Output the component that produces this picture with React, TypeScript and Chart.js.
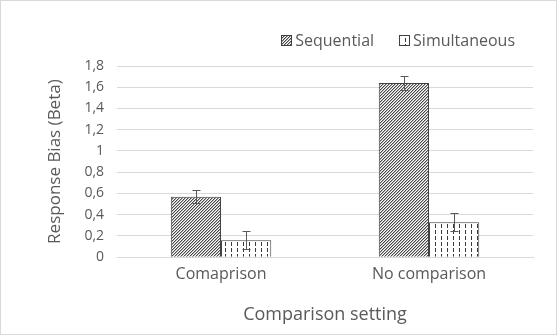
import React, { useEffect, useRef } from "react";
import { Chart, registerables } from "chart.js";

Chart.register(...registerables);

const categories = ["Comaprison", "No comparison"];
const seriesNames = ["Sequential", "Simultaneous"];
const sequentialValues = [0.57, 1.64];
const simultaneousValues = [0.16, 0.33];
const sequentialErrors = [0.06, 0.065];
const simultaneousErrors = [0.085, 0.085];
const yTickLabels = ["0", "0,2", "0,4", "0,6", "0,8", "1", "1,2", "1,4", "1,6", "1,8"];
const xTitle = "Comparison setting";
const yTitle = "Response Bias (Beta)";

const FONT = "'Open Sans', sans-serif";
const TEXT = "#595959";

function makeDiagonal(): CanvasPattern | string {
  const n = 3;
  const c = document.createElement("canvas");
  c.width = n;
  c.height = n;
  const ctx = c.getContext("2d");
  if (!ctx) return "#888";
  ctx.fillStyle = "#ffffff";
  ctx.fillRect(0, 0, n, n);
  for (let x = 0; x < n; x++) {
    for (let y = 0; y < n; y++) {
      const k = (x + y) % n;
      if (k === n - 1) {
        ctx.fillStyle = "#484848";
        ctx.fillRect(x, y, 1, 1);
      } else if (k === 0) {
        ctx.fillStyle = "#b4b4b4";
        ctx.fillRect(x, y, 1, 1);
      }
    }
  }
  return ctx.createPattern(c, "repeat") || "#888";
}

function makeDashes(): CanvasPattern | string {
  const c = document.createElement("canvas");
  c.width = 6;
  c.height = 6;
  const ctx = c.getContext("2d");
  if (!ctx) return "#ccc";
  ctx.fillStyle = "#ffffff";
  ctx.fillRect(0, 0, 6, 6);
  ctx.fillStyle = "#3a3a3a";
  ctx.fillRect(2, 1, 1, 4);
  return ctx.createPattern(c, "repeat") || "#ccc";
}

const errorBarPlugin = {
  id: "errorBars",
  afterDatasetsDraw(chart: any) {
    const ctx = chart.ctx;
    const yScale = chart.scales.y;
    const errs = [sequentialErrors, simultaneousErrors];
    const vals = [sequentialValues, simultaneousValues];
    ctx.save();
    ctx.strokeStyle = "#595959";
    ctx.lineWidth = 1;
    chart.data.datasets.forEach((_: any, di: number) => {
      const meta = chart.getDatasetMeta(di);
      meta.data.forEach((el: any, i: number) => {
        const x = Math.round(el.x) + 0.5;
        const yHi = Math.round(yScale.getPixelForValue(vals[di][i] + errs[di][i])) + 0.5;
        const yLo = Math.round(yScale.getPixelForValue(vals[di][i] - errs[di][i])) + 0.5;
        ctx.beginPath();
        ctx.moveTo(x, yHi);
        ctx.lineTo(x, yLo);
        ctx.moveTo(x - 4, yHi);
        ctx.lineTo(x + 4, yHi);
        ctx.moveTo(x - 4, yLo);
        ctx.lineTo(x + 4, yLo);
        ctx.stroke();
      });
    });
    ctx.restore();
  },
};

const legendPlugin = {
  id: "customLegend",
  afterDraw(chart: any) {
    const ctx = chart.ctx;
    ctx.save();
    ctx.font = `16px ${FONT}`;
    ctx.textBaseline = "middle";
    const box = 11;
    const gap = 3;
    const itemGap = 25;
    const right = 514;
    const cy = 39;
    const widths = chart.data.datasets.map((d: any) => box + gap + ctx.measureText(d.label).width);
    let x = right - widths.reduce((a: number, b: number) => a + b, 0) - itemGap * (widths.length - 1);
    chart.data.datasets.forEach((d: any, i: number) => {
      const bx = Math.round(x);
      const by = Math.round(cy - box / 2);
      ctx.fillStyle = d.backgroundColor;
      ctx.fillRect(bx, by, box, box);
      ctx.strokeStyle = "#404040";
      ctx.lineWidth = 1;
      ctx.strokeRect(bx + 0.5, by + 0.5, box - 1, box - 1);
      ctx.fillStyle = TEXT;
      ctx.fillText(d.label, x + box + gap, cy + 1);
      x += widths[i] + itemGap;
    });
    ctx.restore();
  },
};

export default function App() {
  const ref = useRef<HTMLCanvasElement>(null);
  useEffect(() => {
    document.body.style.margin = "0";
    const canvas = ref.current;
    if (!canvas) return;
    const chart = new Chart(canvas, {
      type: "bar",
      data: {
        labels: categories,
        datasets: [
          {
            label: seriesNames[0],
            data: sequentialValues,
            backgroundColor: makeDiagonal() as any,
            borderColor: "#404040",
            borderWidth: 1,
          },
          {
            label: seriesNames[1],
            data: simultaneousValues,
            backgroundColor: makeDashes() as any,
            borderColor: "#404040",
            borderWidth: 1,
          },
        ],
      },
      options: {
        responsive: false,
        animation: false,
        devicePixelRatio: 1,
        layout: { padding: { left: 44, right: 23, top: 65, bottom: 8 } },
        datasets: {
          bar: { barPercentage: 1, categoryPercentage: 0.483 },
        },
        plugins: {
          legend: { display: false },
          tooltip: { enabled: false },
        },
        scales: {
          x: {
            grid: { display: false, drawTicks: false },
            border: { display: true, color: "#d9d9d9" },
            ticks: { color: TEXT, font: { family: FONT, size: 16 }, padding: 8 },
            title: {
              display: true,
              text: xTitle,
              color: TEXT,
              font: { family: FONT, size: 18 },
              padding: { top: 12, bottom: 0 },
            },
          },
          y: {
            min: 0,
            max: 1.8,
            grid: { color: "#d9d9d9", drawTicks: false },
            border: { display: false },
            ticks: {
              stepSize: 0.2,
              color: TEXT,
              font: { family: FONT, size: 14 },
              padding: 13,
              callback: (_v: any, i: number) => yTickLabels[i],
            },
            title: {
              display: true,
              text: yTitle,
              color: TEXT,
              font: { family: FONT, size: 17 },
              padding: { top: 0, bottom: 6 },
            },
          },
        },
      },
      plugins: [errorBarPlugin, legendPlugin],
    });
    return () => chart.destroy();
  }, []);
  return (
    <div
      style={{
        position: "fixed",
        left: 0,
        top: 0,
        width: 557,
        height: 335,
        boxSizing: "border-box",
        border: "1px solid #d9d9d9",
        background: "#fff",
      }}
    >
      <canvas ref={ref} width={555} height={333} style={{ display: "block" }} />
    </div>
  );
}
